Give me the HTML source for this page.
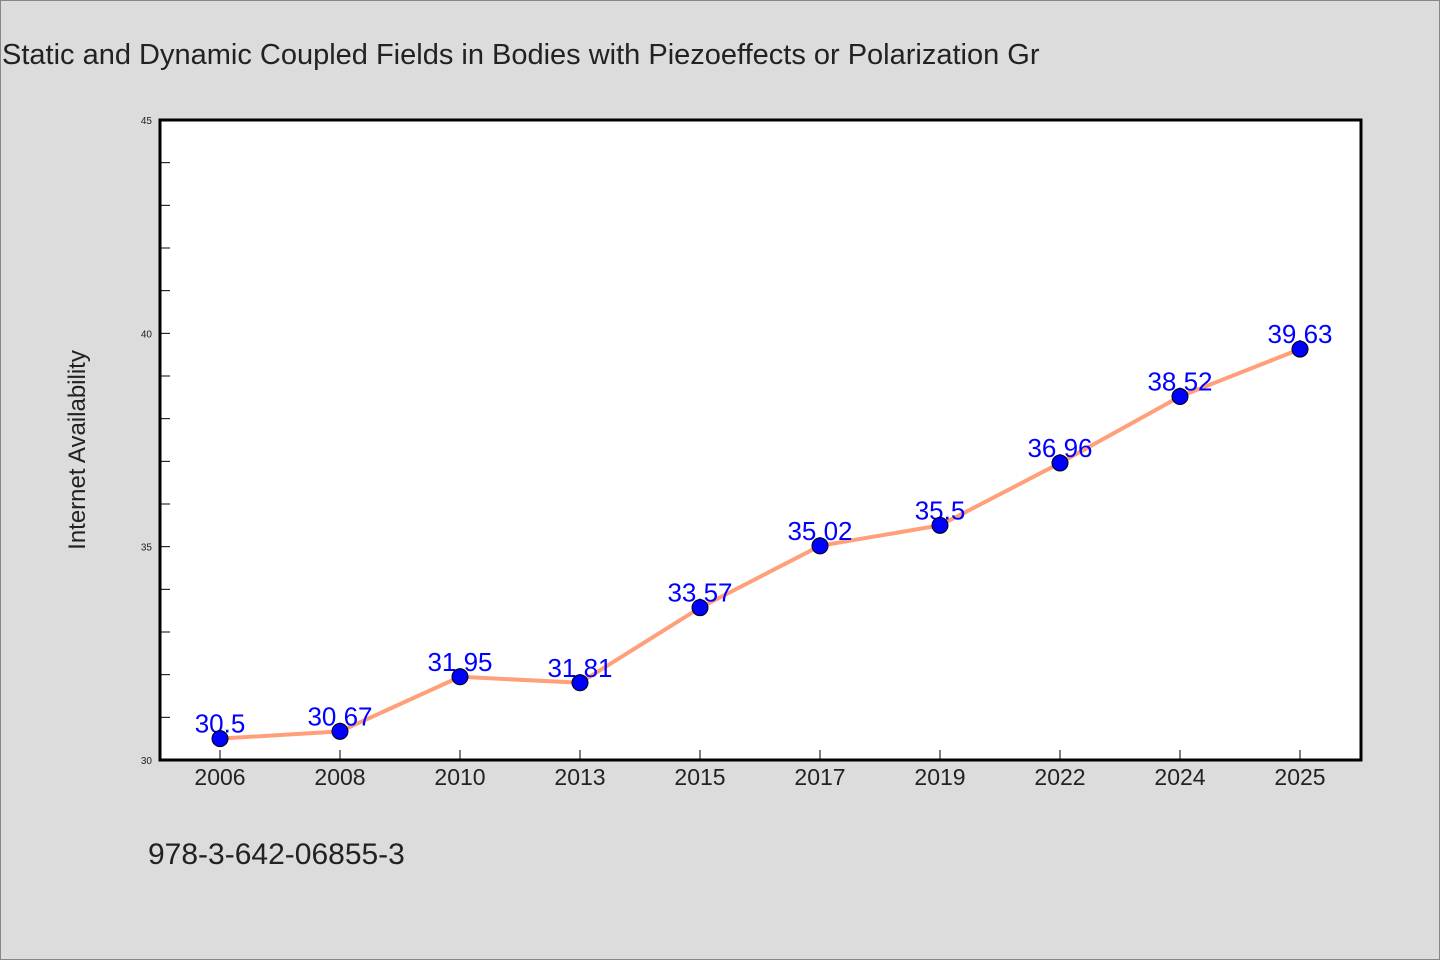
<!DOCTYPE html>
<html><head><meta charset="utf-8"><style>
body{margin:0;background:#dcdcdc;}
svg{display:block;font-family:"WenQuanYi Zen Hei","Liberation Sans",sans-serif;}
</style></head><body>
<svg id="chart" width="1440" height="960" viewBox="0 0 1440 960">
<rect x="0.5" y="0.5" width="1439" height="959" fill="#dcdcdc" stroke="#888"/>
<text x="2" y="64" font-size="29" fill="#222">Static and Dynamic Coupled Fields in Bodies with Piezoeffects or Polarization Gr</text>
<rect x="160" y="120" width="1201" height="640" fill="#fff"/>
<g id="ticks"></g>
<path id="line" fill="none" stroke="#ffa07a" stroke-width="4"/>
<g id="labels"></g>
<g id="points"></g>
<rect x="160" y="120" width="1201" height="640" fill="none" stroke="#000" stroke-width="3"/>
<text transform="translate(85,450) rotate(-90)" text-anchor="middle" font-size="24" fill="#222">Internet Availability</text>
<text x="148" y="864" font-size="30" fill="#222">978-3-642-06855-3</text>
</svg>
<script>
const categories=["2006","2008","2010","2013","2015","2017","2019","2022","2024","2025"];
const values=[30.5,30.67,31.95,31.81,33.57,35.02,35.5,36.96,38.52,39.63];
const valueLabels=["30.5","30.67","31.95","31.81","33.57","35.02","35.5","36.96","38.52","39.63"];
const yTickLabels=["30","35","40","45"];
const yMin=30,yMax=45;
const NS="http://www.w3.org/2000/svg";
function xs(i){return 220+i*120;}
function ys(v){return 760-(v-yMin)/(yMax-yMin)*640;}
function mk(tag,attrs,parent,txt){const e=document.createElementNS(NS,tag);for(const k in attrs)e.setAttribute(k,attrs[k]);if(txt!==undefined)e.textContent=txt;parent.appendChild(e);return e;}
const ticks=document.getElementById('ticks');
for(let v=yMin;v<=yMax;v++){
  const t=mk('line',{x1:160,x2:170,y1:ys(v),y2:ys(v),stroke:'#000','stroke-width':1},ticks);
  
  
}
yTickLabels.forEach(l=>{
  const t=mk('text',{x:152,y:ys(+l)+4,'text-anchor':'end','font-size':10,fill:'#222'},ticks,l);
  
  
});
categories.forEach((c,i)=>{
  const t=mk('line',{x1:xs(i),x2:xs(i),y1:750,y2:760,stroke:'#000','stroke-width':1},ticks);
  
  
  const l=mk('text',{x:xs(i),y:785,'text-anchor':'middle','font-size':23,fill:'#222'},ticks,c);
  
  
});
document.getElementById('line').setAttribute('d',values.map((v,i)=>(i?'L':'M')+xs(i)+','+ys(v)).join(''));
const labels=document.getElementById('labels'),points=document.getElementById('points');
values.forEach((v,i)=>{
  const t=mk('text',{x:xs(i),y:ys(v)-6,'text-anchor':'middle','font-size':26,fill:'#0000ff'},labels,valueLabels[i]);
  
  
  const p=mk('circle',{cx:xs(i),cy:ys(v),r:8,fill:'#0000ff',stroke:'#000','stroke-width':1},points);
  
  
});
</script>
</body></html>
